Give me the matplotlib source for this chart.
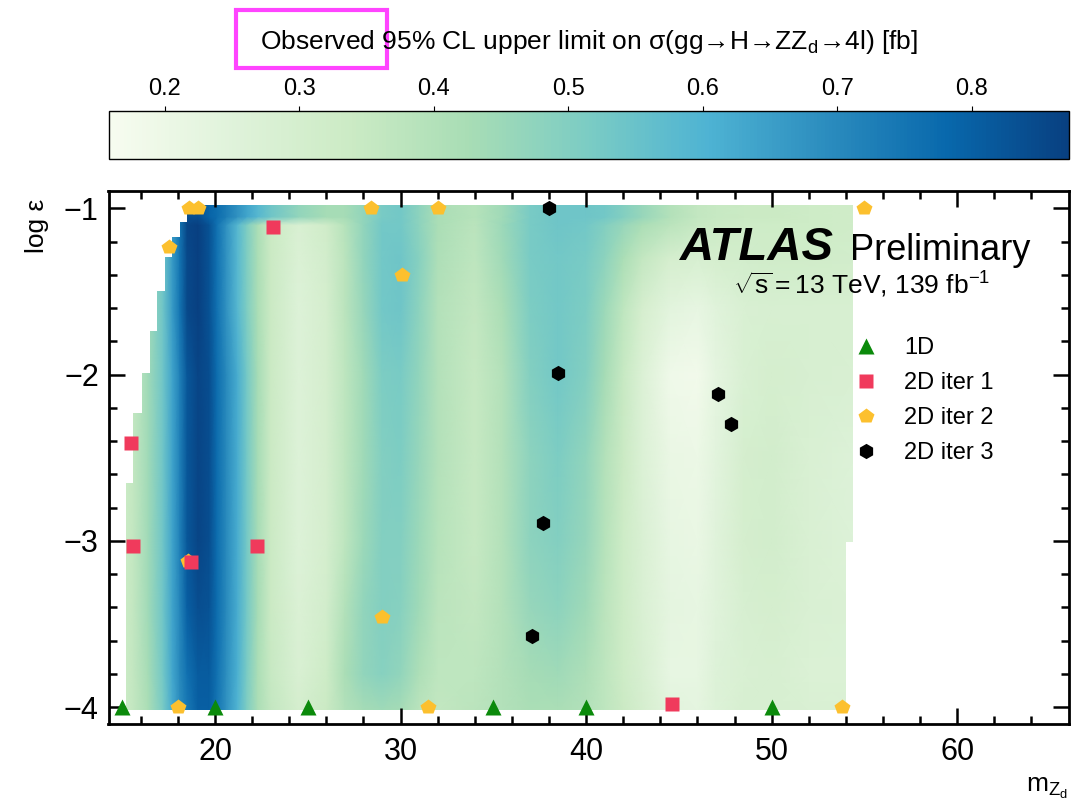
import numpy as np
import matplotlib
matplotlib.use("Agg")
import matplotlib.pyplot as plt
from matplotlib.path import Path
from matplotlib.patches import Rectangle

plt.rcParams['font.family'] = ['Liberation Sans', 'DejaVu Sans']
plt.rcParams['mathtext.fontset'] = 'custom'
plt.rcParams['mathtext.rm'] = 'Liberation Sans'
plt.rcParams['mathtext.it'] = 'Liberation Sans:italic'
plt.rcParams['mathtext.bf'] = 'Liberation Sans:bold'

# heat map nodes
mzd_nodes = [15.0, 15.6, 16.4, 17.2, 17.7, 18.1, 18.5, 19.1, 19.7, 20.1, 20.6, 21.2, 21.7, 22.3, 23.0,
             24.5, 26.0, 27.0, 28.0, 29.0, 30.0, 31.0, 32.0, 34.0,
             35.5, 37.0, 38.5, 40.0, 41.0, 42.0, 43.0, 44.5, 46.0, 47.0, 48.5, 50.0, 52.0, 54.5]
logeps_nodes = [-4.02, -3.8, -3.4, -3.0, -2.5, -2.0, -1.6, -1.3, -1.1, -1.05, -0.98]

limit_rows = [
    # -4.02
    [0.33, 0.36, 0.42, 0.52, 0.62, 0.69, 0.74, 0.80, 0.80, 0.75, 0.68, 0.60, 0.51, 0.42, 0.36,
     0.30, 0.34, 0.40, 0.43, 0.44, 0.43, 0.38, 0.36, 0.38,
     0.40, 0.42, 0.42, 0.40, 0.37, 0.34, 0.30, 0.24, 0.23, 0.26, 0.29, 0.29, 0.28, 0.28],
    # -3.8
    [0.33, 0.36, 0.43, 0.53, 0.63, 0.70, 0.76, 0.81, 0.81, 0.76, 0.69, 0.61, 0.52, 0.42, 0.35,
     0.28, 0.33, 0.42, 0.47, 0.49, 0.47, 0.41, 0.37, 0.37,
     0.40, 0.43, 0.44, 0.41, 0.37, 0.33, 0.29, 0.22, 0.22, 0.26, 0.28, 0.29, 0.27, 0.27],
    # -3.4
    [0.33, 0.36, 0.44, 0.54, 0.64, 0.71, 0.80, 0.84, 0.83, 0.77, 0.70, 0.62, 0.53, 0.43, 0.34,
     0.27, 0.31, 0.40, 0.47, 0.50, 0.49, 0.44, 0.38, 0.36,
     0.40, 0.46, 0.48, 0.44, 0.38, 0.33, 0.28, 0.23, 0.22, 0.25, 0.29, 0.30, 0.28, 0.27],
    # -3.0
    [0.33, 0.36, 0.44, 0.54, 0.64, 0.72, 0.82, 0.86, 0.84, 0.77, 0.70, 0.62, 0.53, 0.43, 0.34,
     0.26, 0.30, 0.37, 0.45, 0.50, 0.50, 0.45, 0.39, 0.35,
     0.40, 0.48, 0.50, 0.46, 0.39, 0.33, 0.28, 0.22, 0.21, 0.25, 0.30, 0.31, 0.28, 0.26],
    # -2.5
    [0.33, 0.36, 0.44, 0.54, 0.64, 0.72, 0.82, 0.86, 0.84, 0.77, 0.70, 0.62, 0.53, 0.43, 0.34,
     0.26, 0.30, 0.37, 0.44, 0.50, 0.51, 0.46, 0.40, 0.35,
     0.40, 0.48, 0.51, 0.47, 0.40, 0.34, 0.27, 0.21, 0.20, 0.24, 0.30, 0.31, 0.28, 0.26],
    # -2.0
    [0.33, 0.36, 0.44, 0.54, 0.64, 0.72, 0.82, 0.86, 0.84, 0.77, 0.70, 0.62, 0.53, 0.43, 0.34,
     0.26, 0.30, 0.37, 0.44, 0.51, 0.52, 0.47, 0.40, 0.35,
     0.40, 0.50, 0.53, 0.50, 0.43, 0.35, 0.27, 0.19, 0.18, 0.23, 0.28, 0.30, 0.29, 0.28],
    # -1.6
    [0.33, 0.36, 0.44, 0.54, 0.66, 0.75, 0.85, 0.87, 0.83, 0.76, 0.68, 0.59, 0.51, 0.42, 0.34,
     0.26, 0.30, 0.38, 0.46, 0.53, 0.54, 0.48, 0.40, 0.36,
     0.42, 0.51, 0.53, 0.51, 0.45, 0.37, 0.30, 0.24, 0.22, 0.25, 0.28, 0.29, 0.29, 0.29],
    # -1.3
    [0.33, 0.36, 0.44, 0.54, 0.66, 0.75, 0.85, 0.87, 0.83, 0.76, 0.68, 0.59, 0.51, 0.42, 0.34,
     0.27, 0.31, 0.38, 0.47, 0.53, 0.54, 0.49, 0.41, 0.37,
     0.44, 0.52, 0.53, 0.52, 0.48, 0.42, 0.36, 0.30, 0.29, 0.30, 0.31, 0.32, 0.32, 0.31],
    # -1.1
    [0.33, 0.36, 0.44, 0.54, 0.66, 0.75, 0.86, 0.87, 0.83, 0.76, 0.68, 0.59, 0.51, 0.42, 0.34,
     0.28, 0.32, 0.39, 0.47, 0.53, 0.53, 0.48, 0.42, 0.38,
     0.45, 0.52, 0.54, 0.53, 0.50, 0.46, 0.42, 0.38, 0.35, 0.34, 0.33, 0.33, 0.33, 0.32],
    # -1.05
    [0.33, 0.36, 0.44, 0.54, 0.66, 0.75, 0.84, 0.84, 0.79, 0.77, 0.73, 0.68, 0.64, 0.59, 0.54,
     0.47, 0.43, 0.43, 0.47, 0.52, 0.53, 0.48, 0.42, 0.39,
     0.44, 0.52, 0.54, 0.54, 0.53, 0.50, 0.46, 0.40, 0.36, 0.35, 0.34, 0.34, 0.33, 0.32],
    # -0.98
    [0.33, 0.36, 0.44, 0.54, 0.66, 0.75, 0.84, 0.84, 0.79, 0.77, 0.73, 0.68, 0.64, 0.59, 0.54,
     0.47, 0.43, 0.43, 0.47, 0.52, 0.53, 0.48, 0.42, 0.39,
     0.44, 0.52, 0.54, 0.54, 0.53, 0.50, 0.46, 0.40, 0.36, 0.35, 0.34, 0.34, 0.33, 0.32],
]

# edges of the filled region
left_step_y = [-4.02, -2.65, -2.23, -1.99, -1.74, -1.50, -1.29, -1.17, -1.08, -0.98]
left_step_x = [15.2, 15.6, 16.05, 16.5, 16.9, 17.3, 17.7, 18.1, 18.5]
right_step_y = [-4.02, -3.01, -0.98]
right_step_x = [54.0, 54.39]

# scan points
x_1d = [15, 20, 25, 35, 40, 50]
y_1d = [-4, -4, -4, -4, -4, -4]
x_it1 = [15.47, 15.6, 18.69, 22.25, 23.14, 44.65]
y_it1 = [-2.41, -3.03, -3.13, -3.03, -1.11, -3.98]
x_it2 = [18.6, 19.1, 28.4, 32.0, 55.0, 17.5, 30.1, 29.0, 18.55, 18.0, 31.5, 53.8]
y_it2 = [-1.0, -1.0, -1.0, -1.0, -1.0, -1.23, -1.40, -3.46, -3.12, -4.0, -4.0, -4.0]
x_it3 = [38.0, 38.5, 47.1, 47.8, 37.7, 37.1]
y_it3 = [-1.0, -1.99, -2.12, -2.30, -2.89, -3.57]

cb_ticks = [0.2, 0.3, 0.4, 0.5, 0.6, 0.7, 0.8]

W, H = 1091, 800
fig = plt.figure(figsize=(W / 100, H / 100), dpi=100)
ax = fig.add_axes([108.5 / W, 1 - 724 / H, 960 / W, 533 / H])
cax = fig.add_axes([108.5 / W, 1 - 158.5 / H, 960 / W, 48 / H])

X, Y = np.meshgrid(mzd_nodes, logeps_nodes)
Z = np.array(limit_rows)
mesh = ax.pcolormesh(X, Y, Z, shading='gouraud', cmap='GnBu', vmin=0.158, vmax=0.872, zorder=1)

verts = []
for i in range(len(left_step_x)):
    verts.append((left_step_x[i], left_step_y[i]))
    verts.append((left_step_x[i], left_step_y[i + 1]))
verts.append((right_step_x[1], right_step_y[2]))
verts.append((right_step_x[1], right_step_y[1]))
verts.append((right_step_x[0], right_step_y[1]))
verts.append((right_step_x[0], right_step_y[0]))
verts.append(verts[0])
mesh.set_clip_path(Path(verts), ax.transData)

ax.plot(x_it2, y_it2, ls='none', marker='p', ms=11.5, color='#fcc02e', mec='none', label='2D iter 2', zorder=3)
ax.plot(x_1d, y_1d, ls='none', marker='^', ms=11, color='#0b8a0b', mec='none', label='1D', zorder=4)
ax.plot(x_it1, y_it1, ls='none', marker='s', ms=10, color='#f03a5c', mec='none', label='2D iter 1', zorder=4)
ax.plot(x_it3, y_it3, ls='none', marker='h', ms=11, color='black', mec='none', label='2D iter 3', zorder=4)

ax.set_xlim(14.26, 66.0)
ax.set_ylim(-4.102, -0.896)
ax.set_xticks([20, 30, 40, 50, 60])
ax.set_xticks(np.arange(16, 66, 2), minor=True)
ax.set_yticks([-4, -3, -2, -1])
ax.set_yticks(np.arange(-4, -0.89, 0.2), minor=True)
ax.tick_params(which='both', direction='in', top=True, right=True, labelsize=22, width=1.8)
ax.tick_params(which='major', length=11.5)
ax.tick_params(which='minor', length=5.5)
ax.tick_params(axis='x', pad=9)
ax.tick_params(axis='y', pad=7)
for s in ax.spines.values():
    s.set_linewidth(2.0)

ax.set_xlabel(r'm$_{\mathrm{Z}_{\mathrm{d}}}$', fontsize=19, loc='right')
ax.xaxis.set_label_coords(1.0, -0.097)
ax.set_ylabel('log ε', fontsize=19, loc='top')
ax.yaxis.set_label_coords(-0.062, 0.985)

handles, labels = ax.get_legend_handles_labels()
order = [1, 2, 0, 3]
ax.legend([handles[i] for i in order], [labels[i] for i in order], loc='upper left',
          bbox_to_anchor=(0.755, 0.766), frameon=False, fontsize=17, handlelength=1.0,
          handletextpad=1.1, labelspacing=0.55)

ax.text(0.595, 0.87, 'ATLAS', transform=ax.transAxes, fontsize=34, fontweight='bold',
        fontstyle='italic', ha='left', va='baseline')
ax.text(0.7725, 0.87, 'Preliminary', transform=ax.transAxes, fontsize=26, ha='left', va='baseline')
ax.text(0.918, 0.807, r'$\sqrt{\mathrm{s}}=13$ TeV, 139 fb$^{-1}$', transform=ax.transAxes, fontsize=19,
        ha='right', va='baseline')

cb = fig.colorbar(mesh, cax=cax, orientation='horizontal')
cb.set_ticks(cb_ticks)
cb.ax.xaxis.set_ticks_position('top')
cb.ax.tick_params(direction='out', length=3.5, width=0.8, labelsize=17, pad=4)
cb.ax.minorticks_off()
cb.outline.set_linewidth(1.0)

fig.text(588.5 / W, 1 - 42 / H, 'Observed 95% CL upper limit on σ(gg→H→ZZ$_{\\mathrm{d}}$→4l) [fb]',
         ha='center', va='center', fontsize=19)

fig.patches.append(Rectangle((236 / W, 1 - 68 / H), 151 / W, 58 / H, transform=fig.transFigure,
                             fill=False, edgecolor='#ff44ff', linewidth=3.0))

fig.savefig('out.png', dpi=100)
